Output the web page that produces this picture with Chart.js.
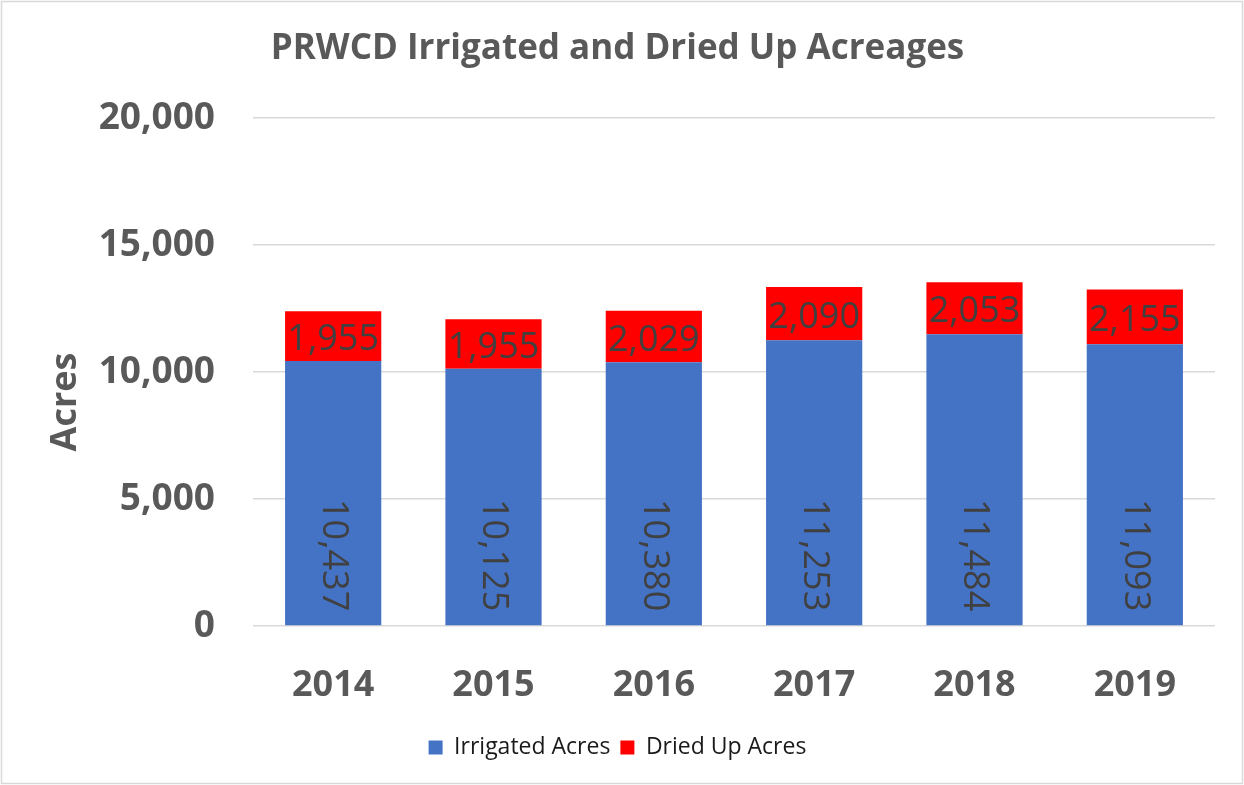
<!DOCTYPE html>
<html>
<head>
<meta charset="utf-8">
<script src="https://cdn.jsdelivr.net/npm/chart.js@4"></script>
<style>
  html, body { margin: 0; padding: 0; background: #fff; }
  #wrap { width: 1244px; height: 785px; position: relative; }
</style>
</head>
<body>
<div id="wrap"><canvas id="acreChart"></canvas></div>
<script>
// Data
const years = ['2014', '2015', '2016', '2017', '2018', '2019'];
const irrigatedAcres = [10437, 10125, 10380, 11253, 11484, 11093];
const driedUpAcres = [1955, 1955, 2029, 2090, 2053, 2155];
const yTicks = [0, 5000, 10000, 15000, 20000];
const yTitle = 'Acres';

const gray = '#595959';
const labelColor = '#404040';
const fmt = v => v.toLocaleString('en-US');

// light frame round the whole chart
const framePlugin = {
  id: 'frame',
  beforeDraw(chart) {
    const ctx = chart.ctx;
    ctx.save();
    ctx.fillStyle = '#fff';
    ctx.fillRect(0, 0, chart.width, chart.height);
    ctx.strokeStyle = '#d9d9d9';
    ctx.lineWidth = 1.5;
    ctx.strokeRect(1.5, 1.5, chart.width - 3, chart.height - 3);
    ctx.restore();
  },
  afterDraw(chart) {
    // y axis title, sits a little below the plot middle like the original
    const ctx = chart.ctx;
    const area = chart.chartArea;
    ctx.save();
    ctx.fillStyle = gray;
    ctx.font = 'bold 36px "Open Sans"';
    ctx.translate(66, (area.top + area.bottom) / 2 + 30);
    ctx.rotate(-Math.PI / 2);
    ctx.textAlign = 'center';
    ctx.textBaseline = 'middle';
    ctx.fillText(yTitle, 0, 0);
    ctx.restore();
  }
};

// value labels inside the bars
const barLabels = {
  id: 'barLabels',
  afterDatasetsDraw(chart) {
    const ctx = chart.ctx;
    ctx.save();
    ctx.fillStyle = labelColor;
    ctx.font = '36px "Open Sans"';
    chart.data.datasets.forEach((ds, di) => {
      const meta = chart.getDatasetMeta(di);
      meta.data.forEach((bar, i) => {
        const text = fmt(ds.data[i]);
        if (di === 0) {
          // rotated, reading downward, sitting at the base
          ctx.save();
          ctx.translate(bar.x, bar.base - 14);
          ctx.rotate(Math.PI / 2);
          ctx.textAlign = 'right';
          ctx.textBaseline = 'middle';
          ctx.fillText(text, 0, 0);
          ctx.restore();
        } else {
          ctx.textAlign = 'center';
          ctx.textBaseline = 'middle';
          ctx.fillText(text, bar.x, (bar.y + bar.base) / 2 + 4);
        }
      });
    });
    ctx.restore();
  }
};

new Chart(document.getElementById('acreChart'), {
  type: 'bar',
  data: {
    labels: years,
    datasets: [
      {
        label: 'Irrigated Acres',
        data: irrigatedAcres,
        backgroundColor: '#4472C4',
        categoryPercentage: 1,
        barPercentage: 0.6
      },
      {
        label: 'Dried Up Acres',
        data: driedUpAcres,
        backgroundColor: '#FF0000',
        categoryPercentage: 1,
        barPercentage: 0.6
      }
    ]
  },
  options: {
    responsive: true,
    maintainAspectRatio: false,
    animation: false,
    layout: { padding: { left: 20, right: 29, top: 16, bottom: 16 } },
    plugins: {
      title: {
        display: true,
        text: 'PRWCD Irrigated and Dried Up Acreages',
        color: gray,
        font: { family: 'Open Sans', size: 35, weight: 'bold' },
        padding: { top: 12, bottom: 48 }
      },
      legend: {
        position: 'bottom',
        labels: {
          color: '#1a1a1a',
          font: { family: 'Open Sans', size: 23 },
          boxWidth: 14,
          boxHeight: 14,
          padding: 10
        }
      },
      tooltip: { enabled: false }
    },
    scales: {
      x: {
        stacked: true,
        grid: { display: false },
        border: { display: false },
        ticks: {
          color: gray,
          font: { family: 'Open Sans', size: 36, weight: 'bold' },
          padding: 30
        },
        afterFit(scale) { scale.height = 100; }
      },
      y: {
        stacked: true,
        min: 0,
        max: 20000,
        afterBuildTicks(scale) { scale.ticks = yTicks.map(v => ({ value: v })); },
        grid: { color: '#d9d9d9', lineWidth: 1.5, drawTicks: false },
        border: { display: false },
        ticks: {
          color: gray,
          font: { family: 'Open Sans', size: 37, weight: 'bold' },
          padding: 38,
          callback: v => fmt(v)
        },
        afterFit(scale) { scale.width = 233; }
      }
    }
  },
  plugins: [framePlugin, barLabels]
});
</script>
</body>
</html>
